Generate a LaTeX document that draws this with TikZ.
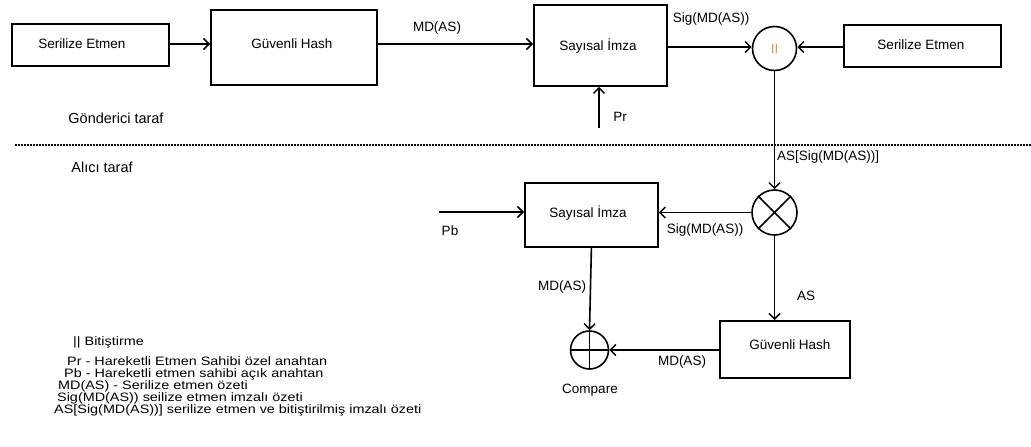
\documentclass[tikz,border=0pt]{standalone}
\usepackage{fontspec}
\setmainfont{Liberation Sans}
\newfontfamily\legfont[FakeStretch=1.18]{Liberation Sans}
\usetikzlibrary{arrows.meta}
\definecolor{tan}{RGB}{190,160,110}
\begin{document}
\begin{tikzpicture}[x=1pt,y=-1pt,
  font=\fontsize{13.5}{15}\selectfont,
  blk/.style={draw, line width=1.8pt, inner sep=0pt, anchor=north west},
  circ/.style={draw, circle, line width=1.6pt, inner sep=0pt, minimum size=#1},
  conn/.style={line width=1.6pt, -{Straight Barb[length=5.5pt,width=11pt,line width=1.5pt]}},
  lbl/.style={inner sep=0pt},
  side/.style={inner sep=0pt, font=\fontsize{14.5}{16}\selectfont},
  leg/.style={inner sep=0pt, anchor=west, text height=8.5pt, text depth=2pt, font=\legfont\fontsize{12.2}{13}\selectfont}]
\useasboundingbox (0,0) rectangle (1031,447);

% sender side
\node[blk, minimum width=157pt, minimum height=42pt] (se1) at (11,23) {};
\node at (82,44) {Serilize Etmen};
\node[blk, minimum width=166pt, minimum height=75pt] (gh1) at (210,9) {};
\node at (292,44) {Güvenli Hash};
\node[blk, minimum width=133pt, minimum height=81pt] (si1) at (533,4) {};
\node at (598,46) {Sayısal İmza};
\node[circ=44pt] (cat) at (774.5,48.5) {};
\node[text=tan] at (774.5,48.5) {II};
\node[blk, minimum width=157pt, minimum height=42pt] (se2) at (843,24) {};
\node at (921,45) {Serilize Etmen};
\coordinate (prs) at (599,128);

\draw[conn] (se1.east |- 0,44) -- (gh1.west |- 0,44);
\draw[conn] (gh1.east |- 0,44) -- (si1.west |- 0,44);
\draw[conn] (si1.east |- 0,47) -- (cat.west |- 0,47);
\draw[conn] (se2.west |- 0,47) -- (cat.east |- 0,47);
\draw[conn] (prs) -- (prs |- si1.south);

\node[lbl] at (437,28) {MD(AS)};
\node[lbl] at (711,19) {Sig(MD(AS))};
\node[lbl] at (620,117) {Pr};
\node[side] at (116,118) {Gönderici taraf};
\node[side] at (102,167) {Alıcı taraf};

\coordinate (dl) at (15,145);
\coordinate (dr) at (1031,145);
\draw[line width=1.5pt, dash pattern=on 1.5pt off 1.5pt] (dl) -- (dr);

% receiver side
\node[circ=45pt] (xc) at (774.5,212.5) {};
\draw[line width=1.5pt] (xc.north west) -- (xc.south east) (xc.north east) -- (xc.south west);
\draw[conn] (cat.south) -- (xc.north);
\node[lbl, anchor=west] at (777,157) {AS[Sig(MD(AS))]};

\node[blk, minimum width=133pt, minimum height=64pt] (si2) at (524,182) {};
\node at (588,213) {Sayısal İmza};
\coordinate (pbs) at (439,212);
\draw[conn] (pbs) -- (si2.west |- pbs);
\node[lbl] at (450,231) {Pb};
\draw[conn] (xc.west) -- (si2.east |- xc.west);
\node[lbl] at (705,230) {Sig(MD(AS))};

\node[circ=38pt] (cmp) at (589.5,350) {};
\draw[line width=1.5pt] (cmp.north) -- (cmp.south) (cmp.west) -- (cmp.east);
\node[lbl] at (590,390) {Compare};
\draw[conn] (si2.south) -- (cmp.north);
\node[lbl] at (562,287) {MD(AS)};

\node[blk, minimum width=130pt, minimum height=57pt] (gh2) at (719,320) {};
\node at (790,345) {Güvenli Hash};
\draw[conn] (xc.south) -- (xc.south |- gh2.north);
\node[lbl] at (806,296) {AS};
\draw[conn] (gh2.west |- cmp.east) -- (cmp.east);
\node[lbl] at (682,362) {MD(AS)};

% legend
\node[leg] (l1) at (73,342) {|| Bitiştirme};
\node[leg] (l2) at (67,362) {Pr - Hareketli Etmen Sahibi özel anahtan};
\node[leg] (l3) at (64,374) {Pb - Hareketli etmen sahibi açık anahtan};
\node[leg] (l4) at (58,386) {MD(AS) - Serilize etmen özeti};
\node[leg] (l5) at (57,398) {Sig(MD(AS)) seilize etmen imzalı özeti};
\node[leg] (l6) at (54,410) {AS[Sig(MD(AS))] serilize etmen ve bitiştirilmiş imzalı özeti};
\end{tikzpicture}
\end{document}
